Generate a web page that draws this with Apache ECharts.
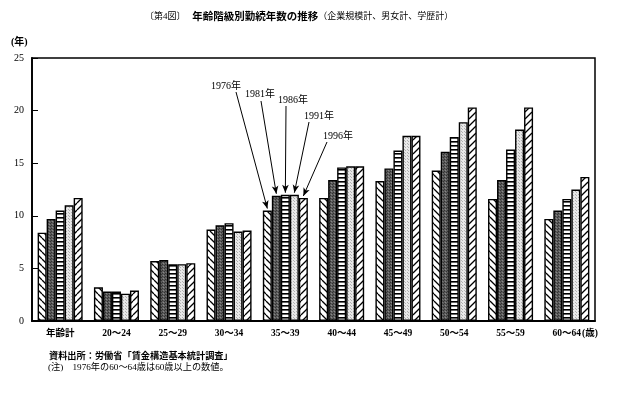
<!DOCTYPE html>
<html><head><meta charset="utf-8">
<script src="https://cdn.jsdelivr.net/npm/echarts@6/dist/echarts.min.js"></script>
<style>html,body{margin:0;padding:0;background:#fff}#c{width:620px;height:394px}</style>
</head><body><div id="c"></div>
<script>
// ---- data ----
const categories = ['年齢計','20～24','25～29','30～34','35～39','40～44','45～49','50～54','55～59','60～64'];
const years = ['1976年','1981年','1986年','1991年','1996年'];
const v1976 = [8.4, 3.2, 5.7, 8.7, 10.5, 11.7, 13.3, 14.3, 11.6, 9.7];
const v1981 = [9.7, 2.8, 5.8, 9.1, 11.9, 13.4, 14.5, 16.1, 13.4, 10.5];
const v1986 = [10.5, 2.8, 5.4, 9.3, 12.0, 14.6, 16.2, 17.5, 16.3, 11.6];
const v1991 = [11.0, 2.6, 5.4, 8.5, 12.0, 14.7, 17.6, 18.9, 18.2, 12.5];
const v1996 = [11.7, 2.9, 5.5, 8.6, 11.7, 14.7, 17.6, 20.3, 20.3, 13.7];
const yMin = 0, yMax = 25, yStep = 5;
const titleMain = '年齢階級別勤続年数の推移';
const titleFig = '〔第4図〕';
const titleSub = '（企業規模計、男女計、学歴計）';
const yUnit = '(年)';
const xUnit = '(歳)';
const note1 = '資料出所：労働省「賃金構造基本統計調査」';
const note2 = '(注)　1976年の60～64歳は60歳以上の数値。';

const FONT = '"Liberation Serif","Noto Sans CJK JP",serif';
const values = [v1976, v1981, v1986, v1991, v1996];

// ---- fill patterns ----
function makePattern(kind){
  const c = document.createElement('canvas');
  const g = c.getContext('2d');
  if (kind === 'back' || kind === 'fwd') {
    const s = 7; c.width = s; c.height = s;
    g.fillStyle = '#fff'; g.fillRect(0,0,s,s);
    g.strokeStyle = '#000'; g.lineWidth = 1.3;
    g.beginPath();
    for (const k of [-s, 0, s]) {
      if (kind === 'back') { g.moveTo(k, 0); g.lineTo(k + s, s); }
      else { g.moveTo(k + s, 0); g.lineTo(k, s); }
    }
    g.stroke();
  } else if (kind === 'horiz') {
    c.width = 4; c.height = 4;
    g.fillStyle = '#fff'; g.fillRect(0,0,4,4);
    g.fillStyle = '#000'; g.fillRect(0,1,4,1.6);
  } else if (kind === 'dark') {
    c.width = 3; c.height = 3;
    g.fillStyle = '#5c5c5c'; g.fillRect(0,0,3,3);
    g.fillStyle = '#333'; g.fillRect(0,0,1,1); g.fillRect(2,1,1,1);
    g.fillStyle = '#888'; g.fillRect(1,2,1,1);
  } else {
    c.width = 3; c.height = 3;
    g.fillStyle = '#e8e8e8'; g.fillRect(0,0,3,3);
    g.fillStyle = '#b0b0b0'; g.fillRect(0,0,1,1); g.fillRect(2,2,1,1);
  }
  return c;
}
const patterns = ['back','dark','horiz','light','fwd'].map(makePattern);

const chart = echarts.init(document.getElementById('c'), null, {renderer:'canvas'});

const series = years.map((name, i) => ({
  name, type: 'bar', data: values[i],
  barGap: '0%', barCategoryGap: '20%',
  animation: false,
  itemStyle: { color: { image: patterns[i], repeat: 'repeat' }, borderColor: '#000', borderWidth: 1.4 }
}));

chart.setOption({
  backgroundColor: '#fff',
  animation: false,
  grid: { left: 32, right: 25, top: 58, bottom: 73, show: true, borderColor: '#000', borderWidth: 1.5, backgroundColor: 'transparent' },
  xAxis: {
    type: 'category', data: categories,
    axisLine: { lineStyle: { color: '#000', width: 1.8 } },
    axisTick: { show: false },
    axisLabel: { color: '#000', fontSize: 9.5, margin: 8, fontFamily: FONT, fontWeight: 'bold', interval: 0 }
  },
  yAxis: {
    type: 'value', min: yMin, max: yMax, interval: yStep,
    axisLine: { show: true, lineStyle: { color: '#000', width: 1.8 } },
    axisTick: { show: true, inside: true, length: 6, lineStyle: { color: '#000', width: 1 } },
    splitLine: { show: false },
    axisLabel: { color: '#000', fontSize: 10, margin: 8, fontFamily: FONT }
  },
  series,
  graphic: [
    { type: 'text', left: 145, top: 11, style: {
        text: '{a|' + titleFig + '}  {b|' + titleMain + '}{a|' + titleSub + '}',
        rich: {
          a: { fontSize: 9, fontFamily: FONT, fill: '#000' },
          b: { fontSize: 10.5, fontFamily: FONT, fontWeight: 'bold', fill: '#000' }
        } } },
    { type: 'text', left: 11, top: 37, style: { text: yUnit, fontSize: 10, fontFamily: FONT, fontWeight: 'bold', fill: '#000' } },
    { type: 'text', left: 582, top: 329, style: { text: xUnit, fontSize: 9.5, fontFamily: FONT, fontWeight: 'bold', fill: '#000' } },
    { type: 'text', left: 49, top: 352, style: { text: note1, fontSize: 9.2, fontFamily: FONT, fontWeight: 'bold', fill: '#000' } },
    { type: 'text', left: 48, top: 363, style: { text: note2, fontSize: 9.2, fontFamily: FONT, fill: '#000' } },
    { type: 'text', left: 211, top: 81, style: { text: years[0], fontSize: 10, fontFamily: FONT, fill: '#000' } },
    { type: 'text', left: 245, top: 89, style: { text: years[1], fontSize: 10, fontFamily: FONT, fill: '#000' } },
    { type: 'text', left: 278, top: 95, style: { text: years[2], fontSize: 10, fontFamily: FONT, fill: '#000' } },
    { type: 'text', left: 304, top: 111, style: { text: years[3], fontSize: 10, fontFamily: FONT, fill: '#000' } },
    { type: 'text', left: 323, top: 131, style: { text: years[4], fontSize: 10, fontFamily: FONT, fill: '#000' } }
  ]
});

// ---- arrows from the year labels to the bars of the 35～39 group ----
const targetCat = 4;
const starts = [[236,92],[261,101],[286,106],[309,122],[327,142]];
const arrows = [];
const model = chart.getModel();
for (let i = 0; i < years.length; i++) {
  const L = model.getSeriesByIndex(i).getData().getItemLayout(targetCat);
  const cx = L.x + L.width / 2;
  const top = Math.min(L.y, L.y + L.height);
  arrows.push([{ x: starts[i][0], y: starts[i][1] }, { x: cx, y: top - 2 }]);
}
chart.setOption({
  series: [{}, {}, {}, {}, {
    markLine: {
      silent: true, animation: false,
      symbol: ['none', 'arrow'], symbolSize: [5, 8],
      lineStyle: { color: '#000', width: 1, type: 'solid' },
      label: { show: false },
      emphasis: { disabled: true },
      data: arrows
    }
  }]
});
</script>
</body></html>
